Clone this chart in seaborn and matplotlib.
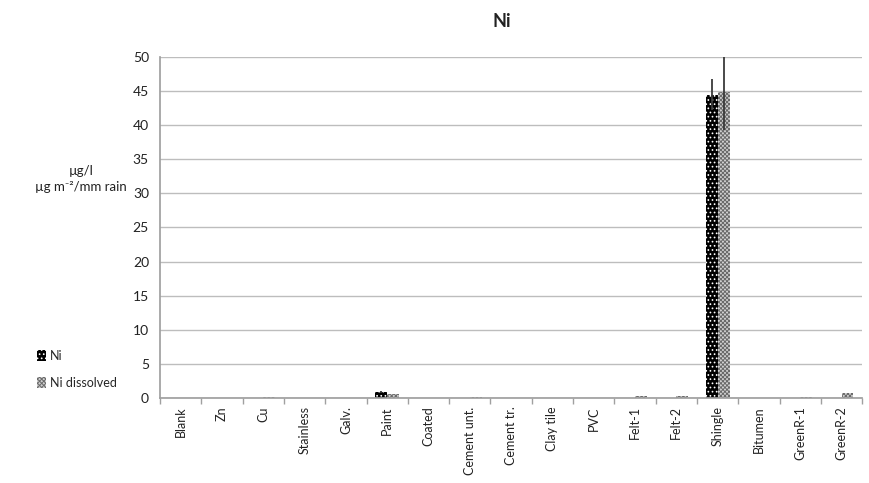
import numpy as np
import pandas as pd
import matplotlib
matplotlib.use("Agg")
import matplotlib.pyplot as plt
from matplotlib.patches import Patch
import seaborn as sns

sns.set_theme(style="white")
plt.rcParams["font.family"] = ["Lato", "DejaVu Sans"]
plt.rcParams["hatch.linewidth"] = 0.7

categories = ["Blank", "Zn", "Cu", "Stainless", "Galv.", "Paint", "Coated",
              "Cement unt.", "Cement tr.", "Clay tile", "PVC", "Felt-1",
              "Felt-2", "Shingle", "Bitumen", "GreenR-1", "GreenR-2"]
ni_total = [0, 0, 0, 0, 0, 0.9, 0, 0, 0, 0, 0, 0, 0, 44.5, 0, 0, 0]
ni_dissolved = [0, 0, 0.15, 0, 0, 0.6, 0, 0.15, 0, 0, 0, 0.3, 0.3, 44.8, 0, 0.15, 0.7]
ni_total_err = [0, 0, 0, 0, 0, 0.1, 0, 0, 0, 0, 0, 0, 0, 2.3, 0, 0, 0]
ni_dissolved_err = [0, 0, 0, 0, 0, 0, 0, 0, 0, 0, 0, 0, 0, 5.5, 0, 0, 0]
series = ["Ni", "Ni dissolved"]

df = pd.DataFrame({
    "cat": categories * 2,
    "val": ni_total + ni_dissolved,
    "err": ni_total_err + ni_dissolved_err,
    "series": [series[0]] * len(categories) + [series[1]] * len(categories),
})

fig = plt.figure(figsize=(8.7, 4.83), dpi=100)
ax = fig.add_axes([0.184, 0.176, 0.807, 0.706])

sns.barplot(data=df, x="cat", y="val", hue="series", order=categories,
            hue_order=series, palette=["black", "#8c8c8c"], width=0.58,
            errorbar=None, legend=False, ax=ax)

ni_style = dict(facecolor="black", edgecolor="white", hatch="....")
dis_style = dict(facecolor="#d0d0d0", edgecolor="#6a6a6a", hatch="xxxxxxxx")

n = len(categories)
for i, p in enumerate(ax.patches[:2 * n]):
    st = ni_style if i < n else dis_style
    p.set_facecolor(st["facecolor"])
    p.set_edgecolor(st["edgecolor"])
    p.set_hatch(st["hatch"])
    p.set_linewidth(0)

# error bars
for i, p in enumerate(ax.patches[:2 * n]):
    err = df["err"].iloc[i]
    if err > 0:
        x = p.get_x() + p.get_width() / 2
        ax.errorbar(x, p.get_height(), yerr=err, color="#3a3a3a", lw=1.3,
                    capsize=0, zorder=5)

ax.set_ylim(0, 50)
ax.set_yticks(range(0, 51, 5))
ax.set_xlim(-0.5, n - 0.5)
ax.yaxis.grid(True, color="#bdbdbd", lw=1)
ax.set_axisbelow(True)
for s in ["top", "right"]:
    ax.spines[s].set_visible(False)
ax.spines["left"].set_color("#a0a0a0")
ax.spines["bottom"].set_color("#a0a0a0")

ax.set_xticks(range(n))
ax.set_xticklabels(categories, rotation=90, fontsize=9, color="#222222")
ax.set_xticks(np.arange(-0.5, n, 1), minor=True)
ax.tick_params(axis="x", which="major", length=0, pad=6)
ax.tick_params(axis="x", which="minor", length=4, color="#a0a0a0", bottom=True)
ax.tick_params(axis="y", labelsize=10, length=0, pad=8, labelcolor="#222222")
ax.set_xlabel("")
ax.set_ylabel("")

fig.text(0.093, 0.63, "µg/l\nµg m\u207b\u00b2/mm rain", ha="center", va="center",
         fontsize=9.5, linespacing=1.4, color="#222222")
fig.text(0.577, 0.955, "Ni", ha="center", va="center", fontsize=13,
         fontweight="bold", color="#222222")

# legend outside on the left
handles = [Patch(lw=0, **ni_style), Patch(lw=0, **dis_style)]
fig.legend(handles, series, loc="center left", bbox_to_anchor=(0.03, 0.235),
           frameon=False, fontsize=9, handlelength=0.7, handleheight=0.9,
           handletextpad=0.3, labelspacing=1.2)

plt.savefig("out.png", dpi=100)
